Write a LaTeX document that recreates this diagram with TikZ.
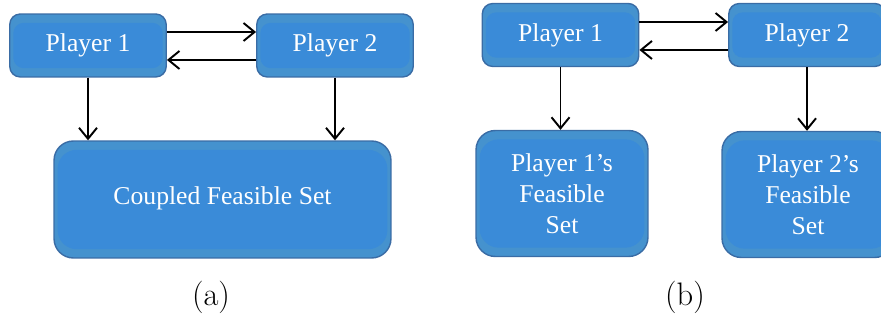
\documentclass[tikz,border=0pt]{standalone}
\usepackage{fontspec}
\newfontfamily\boxfont{Liberation Serif}
\usetikzlibrary{arrows.meta}
\definecolor{boxedge}{RGB}{58,108,165}
\definecolor{boxrim}{RGB}{69,146,206}
\definecolor{boxfill}{RGB}{58,139,216}
\tikzstyle{arrow} = [-{Straight Barb[length=2.2mm,width=3.6mm]},line width=1.1pt]
\tikzstyle{box} = [draw=boxedge,line width=0.8pt,fill=boxrim,text=white,align=center,
  inner sep=0pt,font=\boxfont\fontsize{14.6}{17.6}\selectfont,
  path picture={\fill[boxfill] ([shift={(2pt,-5pt)}]path picture bounding box.north west)
    rectangle ([shift={(-2pt,5pt)}]path picture bounding box.south east);}]
\tikzstyle{player} = [box,rounded corners=6pt,minimum width=3.13cm,minimum height=1.26cm]
\tikzstyle{fset} = [box,rounded corners=11pt,minimum width=3.44cm,minimum height=2.52cm]
\tikzstyle{caption} = [font=\fontsize{18.5}{22}\selectfont]

\begin{document}
\begin{tikzpicture}[x=0.02cm,y=-0.02cm]
          \useasboundingbox (0,0) rectangle (881,320);

          % (a) shared constraint set
          \node[player] at (88,45.5) (a1) {Player 1};
          \node[player] at (335,45.5) (a2) {Player 2};
          \node[box, rounded corners=11pt, minimum width=6.74cm, minimum height=2.34cm]
               at (222.5,199.5) (cs) {\raisebox{0.17cm}{Coupled Feasible Set}};

          \draw[arrow] ([yshift=0.27cm]a1.east) -- ([yshift=0.27cm]a2.west);
          \draw[arrow] ([yshift=-0.29cm]a2.west) -- ([yshift=-0.29cm]a1.east);
          \draw[arrow] (a1) -- (a1 |- cs.north);
          \draw[arrow] (a2) -- (a2 |- cs.north);
          \node[caption] at (211,297) (capa) {(a)};

          % (b) separate constraint sets
          \node[player] at (560.5,35) (b1) {Player 1};
          \node[player] at (807,35) (b2) {Player 2};
          \node[fset] at (562,193.5) (f1) {Player 1’s\\Feasible\\Set};
          \node[fset] at (808,194.5) (f2) {Player 2’s\\Feasible\\Set};

          \draw[arrow] ([yshift=0.26cm]b1.east) -- ([yshift=0.26cm]b2.west);
          \draw[arrow] ([yshift=-0.3cm]b2.west) -- ([yshift=-0.3cm]b1.east);
          \draw[arrow] (b1) -- (b1 |- f1.north);
          \draw[arrow] (b2) -- (b2 |- f2.north);
          \node[caption] at (685,297) (capb) {(b)};
\end{tikzpicture}
\end{document}
